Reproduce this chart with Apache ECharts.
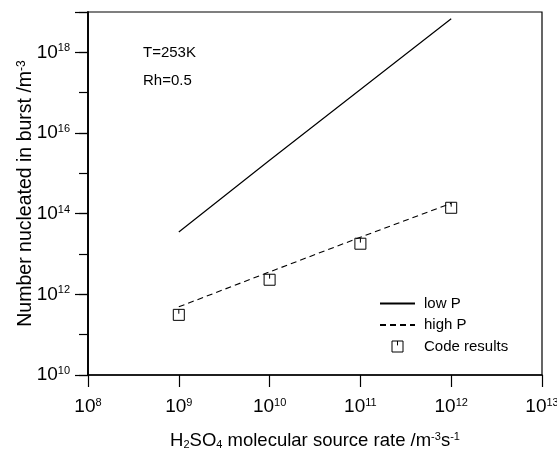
<!DOCTYPE html>
<html><head><meta charset="utf-8">
<script src="https://cdn.jsdelivr.net/npm/echarts@6/dist/echarts.min.js"></script>
<style>html,body{margin:0;padding:0;background:#fff}#c{width:557px;height:451px}</style>
</head><body><div id="c"></div>
<script>
// Data
const sourceRate   = [1e9, 1e10, 1e11, 1e12];            // H2SO4 molecular source rate /m^-3 s^-1
const lowP         = [3.5e13, 2.1e15, 1.2e17, 6.8e18];     // low P (solid)
const highP        = [4.9e11, 3.6e12, 2.6e13, 1.8e14];     // high P (dashed)
const codeResults  = [3.1e11, 2.3e12, 1.8e13, 1.4e14];     // Code results (markers)
const seriesNames  = ['low P', 'high P', 'Code results'];
const notes        = ['T=253K', 'Rh=0.5'];

const FONT = '"Liberation Sans", Arial, Helvetica, sans-serif';
const TICKFONT = '"Liberation Sans", Arial, sans-serif';

const pow10 = v => {
  const e = Math.round(Math.log10(v));
  return '{b|10}{s|' + e + '}';
};
const tickRich = {
  b: {fontSize: 19, fontFamily: TICKFONT, color: '#000'},
  s: {fontSize: 11, fontFamily: TICKFONT, color: '#000', verticalAlign: 'top'}
};
const zip = (xs, ys) => xs.map((x, i) => [x, ys[i]]);
const hiddenSymbol = {color: 'rgba(0,0,0,0)', borderColor: 'rgba(0,0,0,0)', borderWidth: 0, opacity: 0};

const chart = echarts.init(document.getElementById('c'), null, {renderer: 'canvas'});
chart.setOption({
  animation: false,
  backgroundColor: '#fff',
  grid: {left: 88, right: 15, top: 12, bottom: 76, containLabel: false, outerBoundsMode: 'none',
         show: true, borderColor: '#000', borderWidth: 1.2, backgroundColor: 'transparent'},
  xAxis: {
    type: 'log', logBase: 10, min: 1e8, max: 1e13,
    axisLine: {lineStyle: {color: '#000', width: 1.5}},
    axisTick: {inside: false, length: 12, lineStyle: {color: '#000', width: 1.2}},
    splitLine: {show: false},
    axisLabel: {margin: 22, formatter: pow10, rich: tickRich, color: '#000'},
    name: 'H{sb|2}SO{sb|4} molecular source rate /m{sp|-3}s{sp|-1}',
    nameLocation: 'middle', nameGap: 56,
    nameTextStyle: {
      fontSize: 18.5, fontFamily: FONT, color: '#000',
      rich: {
        sb: {fontSize: 11, fontFamily: FONT, color: '#000', verticalAlign: 'bottom'},
        sp: {fontSize: 11, fontFamily: FONT, color: '#000', verticalAlign: 'top'}
      }
    }
  },
  yAxis: [{
    type: 'log', logBase: 10, min: 1e10, max: 1e19, position: 'left',
    axisLine: {lineStyle: {color: '#000', width: 1.5}},
    axisTick: {inside: false, length: 9, lineStyle: {color: '#000', width: 1.2}},
    splitLine: {show: false},
    axisLabel: {show: false}
  }, {
    type: 'log', logBase: 10, min: 1e10, max: 1e19, interval: 2, position: 'left', offset: 0,
    axisLine: {lineStyle: {color: '#000', width: 1.5}},
    axisTick: {inside: false, length: 13, lineStyle: {color: '#000', width: 1.2}},
    splitLine: {show: false},
    axisLabel: {
      margin: 18, rich: tickRich, color: '#000',
      formatter: v => { const e = Math.round(Math.log10(v)); return e % 2 === 0 ? pow10(v) : ''; }
    },
    name: 'Number nucleated in burst /m{sp|-3}',
    nameLocation: 'middle', nameGap: 52, nameMoveOverlap: false,
    nameTextStyle: {
      fontSize: 19.5, fontFamily: FONT, color: '#000',
      rich: {sp: {fontSize: 12, fontFamily: FONT, color: '#000', verticalAlign: 'top'}}
    }
  }],
  legend: {
    orient: 'vertical', left: 379, top: 295, padding: 0, itemGap: 4.5,
    itemWidth: 35, itemHeight: 11,
    textStyle: {fontSize: 15, fontFamily: FONT, color: '#000', lineHeight: 17, padding: [0, 0, 0, 4]},
    data: [
      {name: seriesNames[0], itemStyle: hiddenSymbol},
      {name: seriesNames[1], itemStyle: hiddenSymbol},
      {name: seriesNames[2], itemStyle: {color: '#fff', borderColor: '#000', borderWidth: 1}}
    ]
  },
  graphic: [
    {type: 'text', left: 143, top: 45, style: {text: notes[0], fontSize: 15, fontFamily: FONT, fill: '#000'}},
    {type: 'text', left: 143, top: 73, style: {text: notes[1], fontSize: 15, fontFamily: FONT, fill: '#000'}}
  ],
  series: [{
    name: seriesNames[0], type: 'line', xAxisIndex: 0, yAxisIndex: 0,
    data: zip(sourceRate, lowP), showSymbol: false, symbol: 'none',
    itemStyle: {color: '#000'}, lineStyle: {color: '#000', width: 1.2, type: 'solid'}
  }, {
    name: seriesNames[1], type: 'line', xAxisIndex: 0, yAxisIndex: 0,
    data: zip(sourceRate, highP), showSymbol: false, symbol: 'none',
    itemStyle: {color: '#000'}, lineStyle: {color: '#000', width: 1.1, type: [6, 4]}
  }, {
    name: seriesNames[2], type: 'scatter', xAxisIndex: 0, yAxisIndex: 0,
    data: zip(sourceRate, codeResults),
    symbol: 'path://M0,0H10V10H0Z M5,0V4', symbolSize: 11,
    itemStyle: {color: '#fff', borderColor: '#000', borderWidth: 1, opacity: 1}
  }]
});
</script>
</body></html>
